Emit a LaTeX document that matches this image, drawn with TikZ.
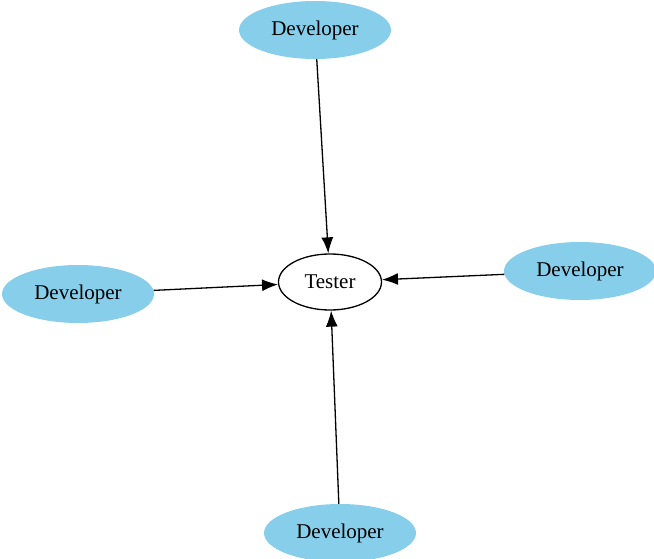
\documentclass[tikz,border=0pt]{standalone}
\usepackage{fontspec}
\setmainfont{Liberation Serif}
\usetikzlibrary{shapes.geometric,arrows.meta}
\definecolor{devfill}{HTML}{87CEEB}

\begin{document}
\begin{tikzpicture}[x=1pt, y=-1pt, >={Latex[length=16pt,width=12pt]},
                    every node/.style={font=\fontsize{21}{25}\selectfont},
                    dev/.style={ellipse, fill=devfill, inner sep=0pt,
                                minimum width=152pt, minimum height=58pt},
                    tst/.style={ellipse, draw, line width=1.3pt, inner sep=0pt,
                                minimum width=103pt, minimum height=56pt},
                    link/.style={line width=1.3pt, ->}]

  %% page frame
  \useasboundingbox (0,0) rectangle (654,559);

  %% tester in the middle
  \node[tst] (tester) at (330,282) {Tester};

  %% four developers around it
  \node[dev] (devtop)    at (315,30)  {Developer};
  \node[dev] (devleft)   at (78,294)  {Developer};
  \node[dev] (devright)  at (580,271) {Developer};
  \node[dev] (devbottom) at (340,533) {Developer};

  %% every developer points at the tester
  \draw[link] (devtop)    -- (tester);
  \draw[link] (devleft)   -- (tester);
  \draw[link] (devright)  -- (tester);
  \draw[link] (devbottom) -- (tester);

\end{tikzpicture}
\end{document}
